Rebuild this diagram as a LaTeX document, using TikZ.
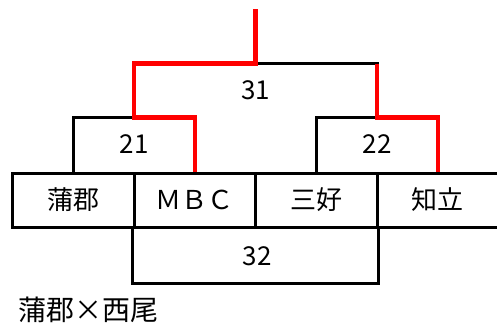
\documentclass[tikz,border=0pt]{standalone}
\usepackage{fontspec}
\usepackage{tikz}
\setmainfont{Noto Sans CJK JP}
\usetikzlibrary{calc}
\usetikzlibrary{positioning}
\tikzset{team/.style = {draw, line width = 3, minimum width = 121.5, minimum height = 54, inner sep = 0}}
\tikzset{line/.style = {line width = 3}}
\tikzset{win/.style = {mred, line width = 4.5}}
\tikzset{num/.style = {inner sep = 0}}
\definecolor{mred}{rgb}{1, 0, 0}

\begin{document}
\begin{tikzpicture}[x = 1pt, y = -1pt, font = \fontsize{26}{30}\selectfont]
      \useasboundingbox (0, 0) rectangle (497, 327);
      \foreach \name/\txt [count = \i] in {kama/蒲郡, mbc/ＭＢＣ, miyo/三好, chir/知立} {
        \node [team] (\name) at (73.25 + 121.5*\i - 121.5, 200) {\txt};
      }
      \coordinate (t21) at ($(kama.north)!0.5!(mbc.north) + (0, -54)$);
      \coordinate (t22) at ($(miyo.north)!0.5!(chir.north) + (0, -54)$);
      \coordinate (t31) at ($(t21)!0.5!(t22) + (0, -54)$);
      \coordinate (top) at ($(t31) + (0, -55)$);

      \draw [line] (kama.north) |- (t21) -| (mbc.north);
      \draw [line] (miyo.north) |- (t22) -| (chir.north);
      \draw [line] (t21) |- (t31) -| (t22);
      \draw [line] (mbc.south west) -- ++(0, 55) -| (miyo.south east);

      % winners
      \draw [win] (mbc.north) |- (t21) |- (t31) -- (top);
      \draw [win] (chir.north) |- (t22) -- ++(0, -54);

      \node [num] (n21) at ($(t21) + (0, 27)$) {21};
      \node [num] (n22) at ($(t22) + (0, 27)$) {22};
      \node [num] (n31) at ($(t31) + (0, 27)$) {31};
      \node [num] (n32) at ($(mbc.south east) + (0, 27.5)$) {32};
      \node [num, anchor = west, font = \fontsize{28}{32}\selectfont] (cap) at (18, 310) {蒲郡×西尾};
    \end{tikzpicture}
\end{document}
